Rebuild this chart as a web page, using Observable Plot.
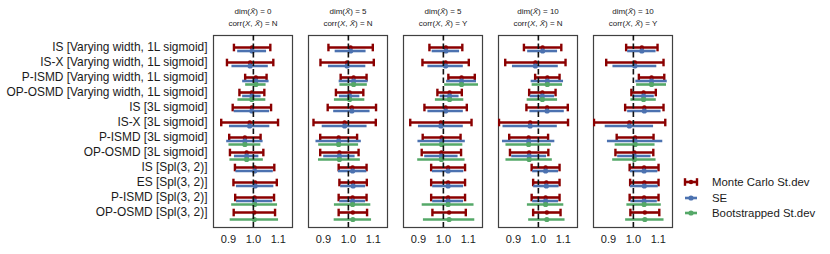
<!DOCTYPE html>
<html>
<head>
<meta charset="utf-8">
<script src="https://cdn.jsdelivr.net/npm/d3@7"></script>
<script src="https://cdn.jsdelivr.net/npm/@observablehq/plot@0.6"></script>
<style>
  html, body { margin: 0; padding: 0; background: #fff; }
  #wrap { position: relative; width: 830px; height: 254px; font-family: "Liberation Sans", Arial, sans-serif; }
  #legend { position: absolute; left: 0; top: 0; }
</style>
</head>
<body>
<div id="wrap"></div>
<script>
// ---- data ----
const rows = [
  "IS [Varying width, 1L sigmoid]",
  "IS-X [Varying width, 1L sigmoid]",
  "P-ISMD [Varying width, 1L sigmoid]",
  "OP-OSMD [Varying width, 1L sigmoid]",
  "IS [3L sigmoid]",
  "IS-X [3L sigmoid]",
  "P-ISMD [3L sigmoid]",
  "OP-OSMD [3L sigmoid]",
  "IS [Spl(3, 2)]",
  "ES [Spl(3, 2)]",
  "P-ISMD [Spl(3, 2)]",
  "OP-OSMD [Spl(3, 2)]"
];
const panels = [0, 1, 2, 3, 4];
const dims = [0, 5, 5, 10, 10];
const corrs = ["N", "N", "Y", "N", "Y"];
const xTicks = [0.9, 1.0, 1.1];

// estimate (dot position) per panel, per row
const center = [
  [0.995, 0.987, 1.010, 0.994, 0.994, 0.985, 0.966, 0.973, 1.005, 1.007, 1.005, 1.004],
  [1.009, 0.995, 1.021, 1.005, 1.014, 0.985, 0.961, 0.964, 1.017, 1.019, 1.017, 1.018],
  [1.010, 1.009, 1.073, 1.025, 1.009, 0.990, 0.993, 0.992, 1.019, 1.019, 1.019, 1.023],
  [1.017, 0.988, 1.036, 1.016, 1.035, 0.967, 0.961, 0.963, 1.029, 1.032, 1.029, 1.034],
  [1.034, 1.006, 1.073, 1.041, 1.044, 0.984, 1.007, 1.004, 1.043, 1.044, 1.043, 1.046]
];
// Monte Carlo St.dev interval ends
const mcLo = [
  [0.922, 0.894, 0.967, 0.944, 0.917, 0.871, 0.903, 0.906, 0.926, 0.920, 0.927, 0.921],
  [0.920, 0.888, 0.969, 0.950, 0.917, 0.860, 0.887, 0.887, 0.961, 0.964, 0.961, 0.961],
  [0.944, 0.916, 1.020, 0.976, 0.924, 0.867, 0.917, 0.913, 0.951, 0.951, 0.951, 0.956],
  [0.942, 0.867, 0.987, 0.963, 0.952, 0.842, 0.883, 0.886, 0.973, 0.979, 0.973, 0.979],
  [0.971, 0.891, 1.022, 0.992, 0.967, 0.842, 0.933, 0.928, 0.985, 0.987, 0.985, 0.988]
];
const mcHi = [
  [1.068, 1.080, 1.053, 1.044, 1.071, 1.099, 1.029, 1.040, 1.084, 1.094, 1.083, 1.087],
  [1.098, 1.102, 1.073, 1.060, 1.111, 1.110, 1.035, 1.041, 1.073, 1.074, 1.073, 1.075],
  [1.076, 1.102, 1.126, 1.074, 1.094, 1.113, 1.069, 1.071, 1.087, 1.087, 1.087, 1.090],
  [1.092, 1.109, 1.085, 1.069, 1.118, 1.119, 1.039, 1.040, 1.085, 1.085, 1.085, 1.089],
  [1.097, 1.121, 1.124, 1.090, 1.121, 1.128, 1.081, 1.080, 1.101, 1.101, 1.101, 1.104]
];
// SE half-widths
const seHalf = [
  [0.058, 0.073, 0.053, 0.037, 0.071, 0.081, 0.073, 0.049, 0.075, 0.075, 0.073, null],
  [0.062, 0.075, 0.058, 0.041, 0.073, 0.090, 0.091, 0.063, 0.057, 0.050, 0.052, null],
  [0.055, 0.071, 0.060, 0.038, 0.071, 0.090, 0.095, 0.067, 0.063, 0.062, 0.062, null],
  [0.060, 0.092, 0.065, 0.049, 0.069, 0.109, 0.105, 0.070, 0.052, 0.051, 0.052, null],
  [0.057, 0.088, 0.063, 0.043, 0.067, 0.097, 0.111, 0.067, 0.055, 0.056, 0.053, null]
];
// Bootstrapped St.dev half-widths
const bsHalf = [
  [null, null, 0.041, 0.056, null, null, 0.064, 0.067, null, null, 0.092, 0.097],
  [null, null, 0.055, 0.061, null, null, 0.080, 0.084, null, null, 0.073, 0.075],
  [null, null, 0.068, 0.057, null, null, 0.085, 0.095, null, null, 0.104, 0.103],
  [null, null, 0.061, 0.061, null, null, 0.091, 0.093, null, null, 0.073, 0.073],
  [null, null, 0.060, 0.051, null, null, 0.080, 0.087, null, null, 0.069, 0.077]
];
const seriesNames = ["Monte Carlo St.dev", "SE", "Bootstrapped St.dev"];
const seriesColors = ["#8b0000", "#4c72b0", "#55a868"];

// ---- table ----
const data = [];
panels.forEach(p => rows.forEach((row, r) => {
  data.push({panel: p, row, c: center[p][r], lo: mcLo[p][r], hi: mcHi[p][r], se: seHalf[p][r], bs: bsHalf[p][r]});
}));
const seData = data.filter(d => d.se != null);
const bsData = data.filter(d => d.bs != null);

const vbar = {draw(ctx, size) { const h = Math.sqrt(size / Math.PI); ctx.moveTo(0, -h); ctx.lineTo(0, h); }};
const [RED, BLUE, GREEN] = seriesColors;
const off1 = 3.5, off2 = 7;
const TXT = "#1a1a1a";

const chart = Plot.plot({
  width: 830, height: 254,
  marginLeft: 213, marginRight: 158, marginTop: 35, marginBottom: 27,
  style: {fontFamily: "Liberation Sans, Arial, sans-serif", background: "white", color: TXT},
  fx: {domain: panels, padding: 0.17, axis: null},
  x: {domain: [0.84, 1.157]},
  y: {domain: rows, range: [45, 213], padding: 0},
  marks: [
    Plot.frame({stroke: "#404040", strokeWidth: 1.2}),
    Plot.axisY({tickSize: 0, tickPadding: 6, fontSize: 11.9, label: null}),
    Plot.axisX({ticks: xTicks, tickFormat: ".1f", tickSize: 0, tickPadding: 8, fontSize: 11, label: null}),
    // Monte Carlo
    Plot.ruleY(data, {fx: "panel", y: "row", x1: "lo", x2: "hi", stroke: RED, strokeWidth: 2.6, clip: true}),
    Plot.dot(data, {fx: "panel", y: "row", x: "lo", symbol: vbar, r: 3.8, stroke: RED, strokeWidth: 2.4, clip: true}),
    Plot.dot(data, {fx: "panel", y: "row", x: "hi", symbol: vbar, r: 3.8, stroke: RED, strokeWidth: 2.4, clip: true}),
    Plot.dot(data, {fx: "panel", y: "row", x: "c", r: 2.2, fill: RED, stroke: null}),
    // SE
    Plot.ruleY(seData, {fx: "panel", y: "row", x1: d => d.c - d.se, x2: d => d.c + d.se, dy: off1, stroke: BLUE, strokeWidth: 2.6, clip: true}),
    Plot.dot(seData, {fx: "panel", y: "row", x: "c", dy: off1, r: 2.6, fill: BLUE, stroke: null}),
    // Bootstrap
    Plot.ruleY(bsData, {fx: "panel", y: "row", x1: d => d.c - d.bs, x2: d => d.c + d.bs, dy: off2, stroke: GREEN, strokeWidth: 2.6, clip: true}),
    Plot.dot(bsData, {fx: "panel", y: "row", x: "c", dy: off2, r: 2.6, fill: GREEN, stroke: null}),
    // reference line
    Plot.ruleX([1], {stroke: "#111", strokeWidth: 1.6, strokeDasharray: "5.5,3"}),
    // panel headers
    Plot.text(panels, {fx: d => d, text: d => `dim(X̃) = ${dims[d]}\ncorr(X, X̃) = ${corrs[d]}`,
      frameAnchor: "top", lineAnchor: "bottom", dy: -10, fontSize: 8, lineHeight: 1.4, fill: TXT})
  ]
});

// italic math symbols in headers (rebuild as tspans)
const SVGNS = "http://www.w3.org/2000/svg";
chart.querySelectorAll('g[aria-label="text"] text').forEach(txt => {
  const lines = txt.querySelectorAll("tspan").length ? Array.from(txt.querySelectorAll("tspan")) : [txt];
  lines.forEach(t => {
    const s = t.textContent;
    while (t.firstChild) t.removeChild(t.firstChild);
    const parts = s.split(/(X\u0303|X(?=,))/);
    parts.forEach(part => {
      if (!part) return;
      if (/^X/.test(part)) {
        const sp = document.createElementNS(SVGNS, "tspan");
        sp.setAttribute("font-style", "italic");
        sp.textContent = part;
        t.appendChild(sp);
      } else {
        t.appendChild(document.createTextNode(part));
      }
    });
  });
});

const wrap = document.getElementById("wrap");
wrap.appendChild(chart);

// legend
const leg = d3.select(wrap).append("svg").attr("id", "legend").attr("width", 830).attr("height", 254);
const ly = [182, 198, 213];
seriesNames.forEach((name, i) => {
  const g = leg.append("g").attr("transform", `translate(0,${ly[i]})`);
  const x0 = 685, x1 = 697, xc = 691;
  g.append("line").attr("x1", x0).attr("x2", x1).attr("y1", 0).attr("y2", 0).attr("stroke", seriesColors[i]).attr("stroke-width", 2.6);
  if (i === 0) {
    [x0, x1].forEach(x => g.append("line").attr("x1", x).attr("x2", x).attr("y1", -3.8).attr("y2", 3.8).attr("stroke", RED).attr("stroke-width", 2.4));
    g.append("circle").attr("cx", xc).attr("cy", 0).attr("r", 2.2).attr("fill", RED);
  } else {
    g.append("circle").attr("cx", xc).attr("cy", 0).attr("r", 2.6).attr("fill", seriesColors[i]);
  }
  g.append("text").attr("x", 712).attr("y", 0).attr("dy", "0.35em")
    .attr("font-family", "Liberation Sans, Arial, sans-serif").attr("font-size", 11.4).attr("fill", TXT).text(name);
});
</script>
</body>
</html>
